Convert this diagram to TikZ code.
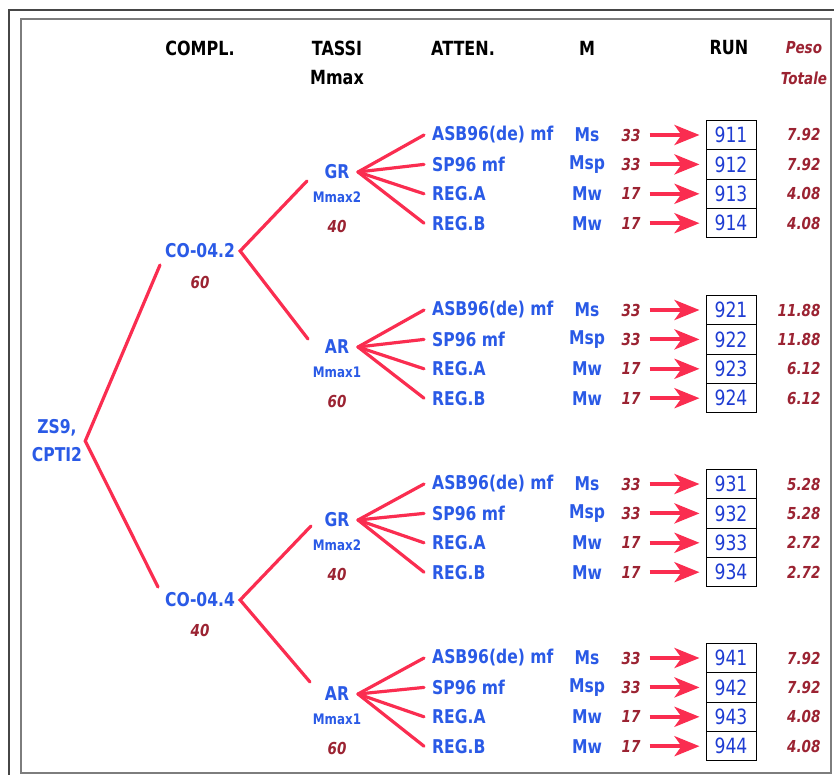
\documentclass[tikz,border=0pt]{standalone}
\usepackage{fontspec}
\setmainfont{DejaVu Sans}[FakeStretch=0.82]
\usetikzlibrary{arrows.meta,calc}

\definecolor{linered}{RGB}{250,45,80}
\definecolor{txtblue}{RGB}{42,90,230}
\definecolor{numbrown}{RGB}{155,35,50}
\definecolor{boxblue}{RGB}{30,60,210}
\definecolor{frameouter}{RGB}{70,70,70}
\definecolor{frameinner}{RGB}{125,125,125}

\tikzset{
  head/.style={font=\bfseries\fontsize{19.5}{20}\selectfont, text=black},
  lbl/.style={font=\bfseries\fontsize{19}{28}\selectfont, text=txtblue},
  sublbl/.style={font=\bfseries\fontsize{14.5}{16}\selectfont, text=txtblue},
  wt/.style={font=\bfseries\itshape\fontsize{16.5}{18}\selectfont, text=numbrown},
  runbox/.style={draw=black, line width=1pt, minimum width=50pt,
    minimum height=29.5pt, inner sep=0pt,
    font=\fontsize{21}{22}\selectfont, text=boxblue},
  branch/.style={draw=linered, line width=3.2pt, line cap=round},
  arr/.style={draw=linered, line width=4pt, shorten >=6pt,
    -{Stealth[length=25pt,width=20pt,inset=7pt]}}
}

\begin{document}
\begin{tikzpicture}[x=1pt,y=-1pt]
\useasboundingbox (0,0) rectangle (834,775);

% double frame
\draw[frameouter, line width=2.5pt] (9,775) -- (9,10) -- (834,10);
\draw[frameinner, line width=1.6pt] (21,19) rectangle (831,773);

% column headings
\node[head] (hcompl) at (200,48) {COMPL.};
\node[head] (htassi) at (337,48) {TASSI};
\node[head] (hmmax)  at (337,78) {Mmax};
\node[head] (hatten) at (463,48) {ATTEN.};
\node[head] (hm)     at (587,48) {M};
\node[head] (hrun)   at (729,48) {RUN};
\node[wt]   (hpeso)  at (804,48) {Peso};
\node[wt]   (htot)   at (804,78) {Totale};

% root of the logic tree
\node[lbl, align=center, inner xsep=3pt] (root) at (57,441) {ZS9,\\CPTI2};

% completeness branches
\node[lbl, inner xsep=5pt] (co1) at (200,251) {CO-04.2};
\node[wt] (co1w) at (200,283) {60};
\node[lbl, inner xsep=5pt] (co2) at (200,600) {CO-04.4};
\node[wt] (co2w) at (200,630) {40};

\draw[branch] ($(co1.center)+(-40,14)$) -- (root.east) -- ($(co2.center)+(-42,-13)$);

% rate / Mmax branches
\foreach \t/\y/\nm/\mm/\w in {1/172/GR/Mmax2/40, 2/347/AR/Mmax1/60,
                               3/520/GR/Mmax2/40, 4/694/AR/Mmax1/60}{
  \node[lbl] (t\t) at (337,\y) {\nm};
  \node[sublbl] (t\t m) at (337,\y+25) {\mm};
  \node[wt] (t\t w) at (337,\y+54) {\w};
  \coordinate (t\t v) at ($(t\t.center)+(21,0)$);
}

\draw[branch] ($(t1.center)+(-30,9)$) -- (co1.east) -- ($(t2.center)+(-29,-8)$);
\draw[branch] ($(t3.center)+(-26,6)$) -- (co2.east) -- ($(t4.center)+(-27,-12)$);

% attenuation rows with magnitude, weight, run and total weight
\foreach \g/\y/\pa/\pb/\pc/\pd in {1/135/7.92/7.92/4.08/4.08,
                                   2/310/11.88/11.88/6.12/6.12,
                                   3/484/5.28/5.28/2.72/2.72,
                                   4/658/7.92/7.92/4.08/4.08}{
  \foreach \r/\att/\mag/\n/\p in {1/ASB96(de) mf/Ms/33/\pa, 2/SP96 mf/Msp/33/\pb,
                                  3/REG.A/Mw/17/\pc, 4/REG.B/Mw/17/\pd}{
    \pgfmathsetmacro{\ry}{\y+(\r-1)*29.4}
    \node[lbl, anchor=west, inner xsep=8pt] (a\g\r) at (424,\ry) {\att};
    \node[lbl] (m\g\r) at (587,\ry) {\mag};
    \node[wt, inner xsep=9pt] (n\g\r) at (631,\ry) {\n};
    \node[runbox] (r\g\r) at (731,\ry) {9\g\r};
    \node[wt, anchor=east] (p\g\r) at (824,\ry) {\p};
    \draw[branch] (t\g v) -- (a\g\r.west);
    \draw[arr] (n\g\r.east) -- (r\g\r.west);
  }
}
\end{tikzpicture}
\end{document}
